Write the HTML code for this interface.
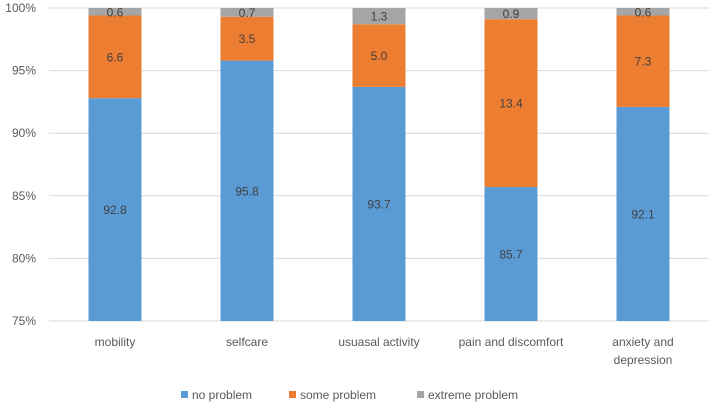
<!DOCTYPE html>
<html><head><meta charset="utf-8"><style>
html,body{margin:0;padding:0;background:#fff;}
svg text{font-family:"Liberation Sans",sans-serif;fill:#595959;}
</style></head><body>
<svg id="chart" width="709" height="405" xmlns="http://www.w3.org/2000/svg">
<g id="grid"></g>
<g id="yaxis"></g>
<g id="bars"></g>
<g id="xaxis"></g>
<g id="legend"></g>
</svg>
<script>
const categories = [["mobility"],["selfcare"],["usuasal activity"],["pain and discomfort"],["anxiety and","depression"]];
const noProblem = [92.8, 95.8, 93.7, 85.7, 92.1];
const someProblem = [6.6, 3.5, 5.0, 13.4, 7.3];
const extremeProblem = [0.6, 0.7, 1.3, 0.9, 0.6];
const yTicks = [75, 80, 85, 90, 95, 100];
const seriesNames = ["no problem","some problem","extreme problem"];

const colors = ["#5b9bd5","#ed7d31","#a5a5a5"];
const NS = "http://www.w3.org/2000/svg";
const x0 = 49, x1 = 709, yMin = 75, yMax = 100, yTop = 8, yBot = 321;
const y = v => yBot - (Math.max(v, yMin) - yMin) / (yMax - yMin) * (yBot - yTop);
const band = (x1 - x0) / categories.length;
const xc = i => x0 + band * (i + 0.5);
const bw = 53;
function mk(tag, attrs, parent){const e=document.createElementNS(NS,tag);for(const k in attrs)e.setAttribute(k,attrs[k]);parent.appendChild(e);return e;}

const grid = document.getElementById('grid'), yaxis = document.getElementById('yaxis');
yTicks.forEach(t=>{
  const l = mk('line',{x1:x0,x2:x1,y1:y(t),y2:y(t),stroke:'#d9d9d9','stroke-width':1},grid);
  
  
  const tx = mk('text',{x:36,y:y(t)+4,'text-anchor':'end','font-size':12},yaxis);
  tx.textContent = t+'%';
  
  
});

const bars = document.getElementById('bars');
const series = [noProblem, someProblem, extremeProblem];
categories.forEach((c,i)=>{
  let base = 0;
  series.forEach((s,k)=>{
    const v = s[i];
    const top = base + v;
    const yt = y(top), yb = y(base);
    const r = mk('rect',{x:xc(i)-bw/2,y:yt,width:bw,height:Math.max(0,yb-yt),fill:colors[k]},bars);
    
    
    const lbl = mk('text',{x:xc(i),y:(yt+yb)/2+4.5,'text-anchor':'middle','font-size':12,style:'fill:#404040'},bars);
    lbl.textContent = v.toFixed(1);
    
    
    base = top;
  });
});

const xaxis = document.getElementById('xaxis');
categories.forEach((c,i)=>{
  c.forEach((line,j)=>{
    const t = mk('text',{x:xc(i),y:346+j*18,'text-anchor':'middle','font-size':12},xaxis);
    t.textContent = line;
    
    
  });
});

const legend = document.getElementById('legend');
const lx = [181, 289, 417];
seriesNames.forEach((n,k)=>{
  const sq = mk('rect',{x:lx[k],y:391,width:7,height:7,fill:colors[k]},legend);
  
  
  const t = mk('text',{x:lx[k]+11,y:399,'font-size':12},legend);
  t.textContent = n;
  
  
});
</script>
</body></html>
